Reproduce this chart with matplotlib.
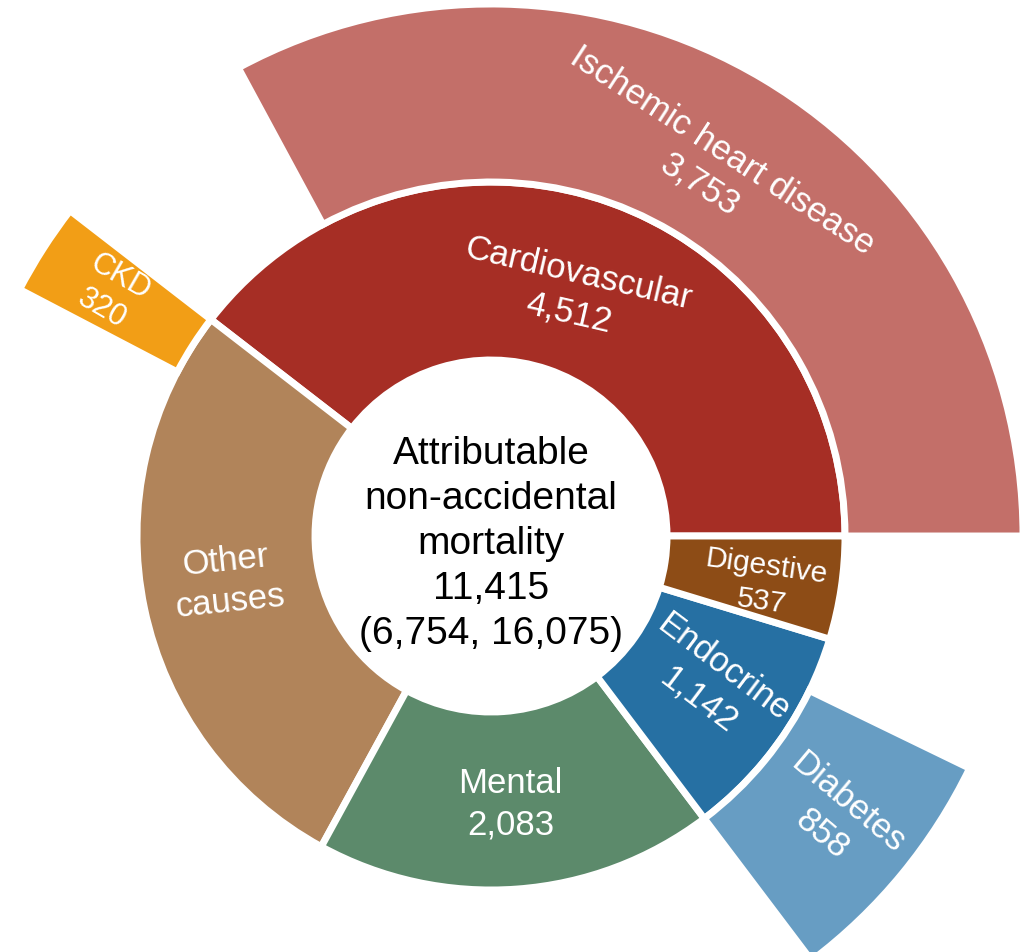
import matplotlib
matplotlib.use("Agg")
import matplotlib.pyplot as plt
import numpy as np

# Attributable deaths by cause group (inner ring)
groups = ["Cardiovascular", "Other causes", "Mental", "Endocrine", "Digestive"]
group_values = [4512, 3141, 2083, 1142, 537]
group_labels = ["Cardiovascular\n4,512", "Other\ncauses", "Mental\n2,083",
                "Endocrine\n1,142", "Digestive\n537"]
group_colors = ["#A62E25", "#B1845A", "#5C8A6B", "#2670A3", "#8D4C16"]
# label styling: rotation (deg), radial nudge (px), angular nudge (deg), size (pt)
group_rot = [-13, 6, 0, -37, -8]
group_dr = [-9, 2, 4, 0, 12]
group_dth = [0, -2, 0, 1, -1.5]
group_fs = [25, 25, 25, 25, 21.5]

# Selected sub-causes (outer ring), each placed at the start of its parent group
subcauses = ["Ischemic heart disease", "CKD", "Diabetes"]
subcause_parent = ["Cardiovascular", "Other causes", "Endocrine"]
subcause_values = [3753, 320, 858]
subcause_labels = ["Ischemic heart disease\n3,753", "CKD\n320", "Diabetes\n858"]
subcause_colors = ["#C36F69", "#F29E16", "#679DC3"]
subcause_rot = [-33, -30, -40]
subcause_dr = [-8, 14, 8]
subcause_fs = [25, 22, 25]

total = 11415
total_ci = (6754, 16075)

W, H = 1025, 952
cx, cy = 491, 536
lw = 5.0
R_IN, R_MID, R_OUT = 176, 354, 532

plt.rcParams["font.family"] = ["Liberation Sans", "DejaVu Sans"]
fig = plt.figure(figsize=(W / 100, H / 100), dpi=100)
ax = fig.add_axes([0, 0, 1, 1])

# inner ring
wedges, _ = ax.pie(group_values, radius=R_MID, startangle=0, counterclock=True,
                   colors=group_colors,
                   wedgeprops=dict(width=R_MID - R_IN, edgecolor="white", linewidth=lw))

# outer ring: sub-cause wedge followed by a transparent remainder of its parent
outer_vals, outer_cols = [], []
for g, v in zip(groups, group_values):
    if g in subcause_parent:
        i = subcause_parent.index(g)
        outer_vals += [subcause_values[i], v - subcause_values[i]]
        outer_cols += [subcause_colors[i], "none"]
    else:
        outer_vals.append(v)
        outer_cols.append("none")
owedges, _ = ax.pie(outer_vals, radius=R_OUT, startangle=0, counterclock=True,
                    colors=outer_cols,
                    wedgeprops=dict(width=R_OUT - R_MID, edgecolor="white", linewidth=lw))
for w, c in zip(owedges, outer_cols):
    if c == "none":
        w.set_edgecolor("none")

# labels
start = np.cumsum([0] + group_values[:-1]) / total * 360.0
spans = np.array(group_values) / total * 360.0
r_lab = (R_IN + R_MID) / 2
for lab, a0, sp, rot, dr, dth, fs in zip(group_labels, start, spans, group_rot,
                                         group_dr, group_dth, group_fs):
    th = np.deg2rad(a0 + sp / 2 + dth)
    r = r_lab + dr
    ax.text(r * np.cos(th), r * np.sin(th), lab, color="white",
            fontsize=fs, ha="center", va="center", multialignment="center",
            rotation=rot, rotation_mode="anchor", linespacing=1.3)

r_lab2 = (R_MID + R_OUT) / 2 - 6
for lab, par, v, rot, dr, fs in zip(subcause_labels, subcause_parent, subcause_values,
                                    subcause_rot, subcause_dr, subcause_fs):
    a0 = start[groups.index(par)]
    th = np.deg2rad(a0 + v / total * 180.0)
    r = r_lab2 + dr
    ax.text(r * np.cos(th), r * np.sin(th), lab, color="white",
            fontsize=fs, ha="center", va="center", multialignment="center",
            rotation=rot, rotation_mode="anchor", linespacing=1.3)

ax.text(0, -8, "Attributable\nnon-accidental\nmortality\n{:,}\n({:,}, {:,})".format(
        total, *total_ci), color="black", fontsize=28, ha="center", va="center",
        multialignment="center", linespacing=1.32)

ax.set_xlim(-cx, W - cx)
ax.set_ylim(-(H - cy), cy)
ax.set_aspect("equal")
ax.axis("off")
fig.savefig("out.png", dpi=100, facecolor="white")
